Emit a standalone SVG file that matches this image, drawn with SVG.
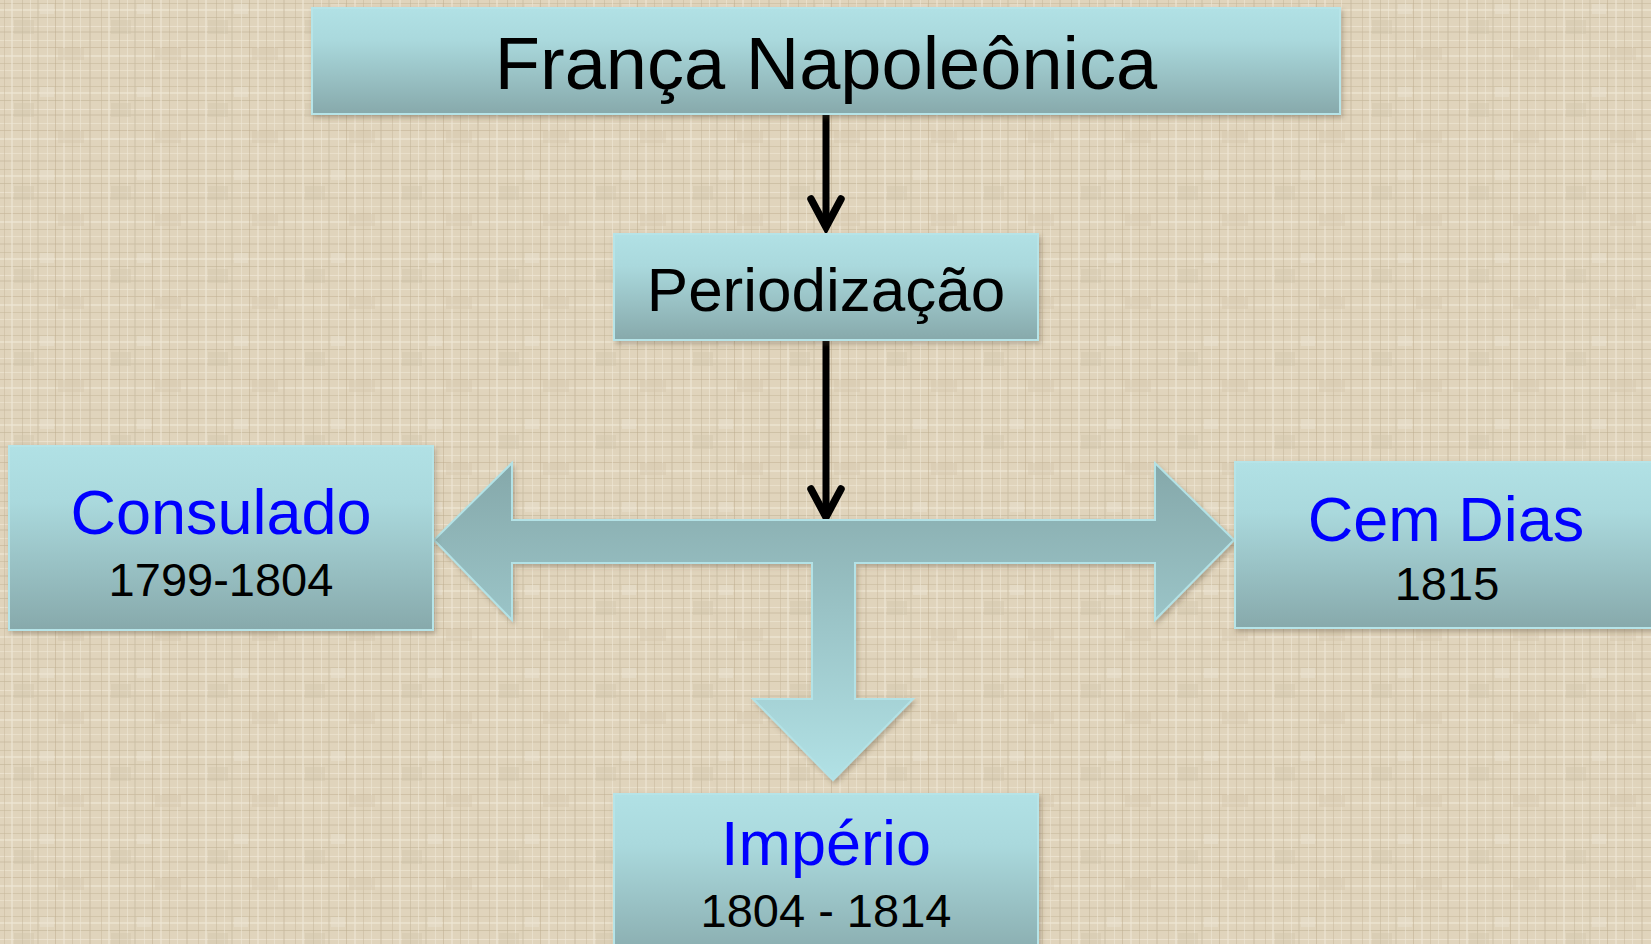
<svg xmlns="http://www.w3.org/2000/svg" width="1651" height="944" viewBox="0 0 1651 944">
  <defs>
    <pattern id="linen" width="97" height="83" patternUnits="userSpaceOnUse">
      <rect width="97" height="83" fill="#e0d4bc"/>
      <rect x="0" y="3" width="97" height="1" fill="#c4b598" opacity="0.5"/>
      <rect x="0" y="9" width="97" height="2" fill="#efe7d6" opacity="0.6"/>
      <rect x="0" y="17" width="97" height="1" fill="#b9aa8c" opacity="0.45"/>
      <rect x="0" y="26" width="97" height="1" fill="#f1e9da" opacity="0.6"/>
      <rect x="0" y="31" width="97" height="2" fill="#cbbda2" opacity="0.45"/>
      <rect x="0" y="40" width="97" height="1" fill="#efe7d6" opacity="0.6"/>
      <rect x="0" y="47" width="97" height="1" fill="#bfae90" opacity="0.5"/>
      <rect x="0" y="55" width="97" height="2" fill="#f0e8d8" opacity="0.55"/>
      <rect x="0" y="63" width="97" height="1" fill="#c2b395" opacity="0.45"/>
      <rect x="0" y="70" width="97" height="1" fill="#efe6d4" opacity="0.6"/>
      <rect x="0" y="77" width="97" height="2" fill="#c8b99d" opacity="0.4"/>
      <rect x="4" y="0" width="1" height="83" fill="#c5b699" opacity="0.45"/>
      <rect x="11" y="0" width="2" height="83" fill="#efe7d6" opacity="0.55"/>
      <rect x="22" y="0" width="1" height="83" fill="#bcad8f" opacity="0.4"/>
      <rect x="30" y="0" width="1" height="83" fill="#f0e8d8" opacity="0.55"/>
      <rect x="37" y="0" width="2" height="83" fill="#c9bba0" opacity="0.4"/>
      <rect x="47" y="0" width="1" height="83" fill="#efe7d6" opacity="0.55"/>
      <rect x="55" y="0" width="1" height="83" fill="#bba98a" opacity="0.45"/>
      <rect x="63" y="0" width="2" height="83" fill="#f0e8d8" opacity="0.5"/>
      <rect x="72" y="0" width="1" height="83" fill="#c3b497" opacity="0.45"/>
      <rect x="80" y="0" width="1" height="83" fill="#efe7d6" opacity="0.55"/>
      <rect x="89" y="0" width="2" height="83" fill="#c6b79b" opacity="0.4"/>
      <rect x="14" y="20" width="20" height="14" fill="#cfc2a8" opacity="0.35"/>
      <rect x="58" y="48" width="26" height="12" fill="#d0c3a9" opacity="0.35"/>
      <rect x="40" y="4" width="14" height="10" fill="#ece3d1" opacity="0.4"/>
    </pattern>
    <linearGradient id="boxGrad" x1="0" y1="0" x2="0" y2="1">
      <stop offset="0" stop-color="#b1e1e5"/>
      <stop offset="0.3" stop-color="#aad9dd"/>
      <stop offset="1" stop-color="#87a9ab"/>
    </linearGradient>
    <linearGradient id="arrowGrad" gradientUnits="userSpaceOnUse" x1="0" y1="463" x2="0" y2="780">
      <stop offset="0" stop-color="#85a8aa"/>
      <stop offset="1" stop-color="#b1e1e5"/>
    </linearGradient>
    <filter id="shadow" x="-5%" y="-5%" width="110%" height="120%">
      <feDropShadow dx="2" dy="3" stdDeviation="2.5" flood-color="#5a4a30" flood-opacity="0.35"/>
    </filter>
    <marker id="vhead" markerUnits="userSpaceOnUse" viewBox="-34 -20 40 40" refX="0" refY="0" markerWidth="40" markerHeight="40" orient="auto" overflow="visible">
      <path d="M -28,-15 L 0,0 L -28,15" fill="none" stroke="#000" stroke-width="7.5" stroke-linecap="round" stroke-linejoin="miter"/>
    </marker>
    <style>
      .box { fill: url(#boxGrad); stroke: #b6e4e8; stroke-width: 2; filter: url(#shadow); }
      .t { font-family: "Liberation Sans", Arial, sans-serif; text-anchor: middle; }
      .title { fill: #0000ff; font-size: 63px; }
      .year { fill: #000; font-size: 47px; }
      .conn { fill: none; stroke: #000; stroke-width: 7; marker-end: url(#vhead); }
    </style>
  </defs>

  <rect width="1651" height="944" fill="url(#linen)"/>

  <g id="connectors">
    <path class="conn" d="M826,114 L826,227"/>
    <path class="conn" d="M826,341 L826,517"/>
    <path id="block-arrow" d="M434,540 L512,463 L512,520 L1155,520 L1155,463 L1234,540 L1155,620 L1155,563 L855,563 L855,699 L913,699 L833,780 L753,699 L812,699 L812,563 L512,563 L512,620 Z" fill="url(#arrowGrad)" stroke="#b3e2e6" stroke-width="2" stroke-linejoin="miter" filter="url(#shadow)"/>
  </g>

  <g id="node-franca">
    <rect class="box" x="312" y="8" width="1028" height="106"/>
    <text class="t" x="826" y="89" font-size="74" fill="#000">França Napoleônica</text>
  </g>

  <g id="node-periodizacao">
    <rect class="box" x="614" y="234" width="424" height="106"/>
    <text class="t" x="826" y="311" font-size="62" fill="#000">Periodização</text>
  </g>

  <g id="node-consulado">
    <rect class="box" x="9" y="446" width="424" height="184"/>
    <text class="t title" x="221" y="534">Consulado</text>
    <text class="t year" x="221" y="596">1799-1804</text>
  </g>

  <g id="node-cemdias">
    <rect class="box" x="1235" y="462" width="430" height="166"/>
    <text class="t title" x="1446" y="541">Cem Dias</text>
    <text class="t year" x="1447" y="600">1815</text>
  </g>

  <g id="node-imperio">
    <rect class="box" x="614" y="794" width="424" height="170"/>
    <text class="t title" x="826" y="865">Império</text>
    <text class="t year" x="826" y="927">1804 - 1814</text>
  </g>
</svg>
